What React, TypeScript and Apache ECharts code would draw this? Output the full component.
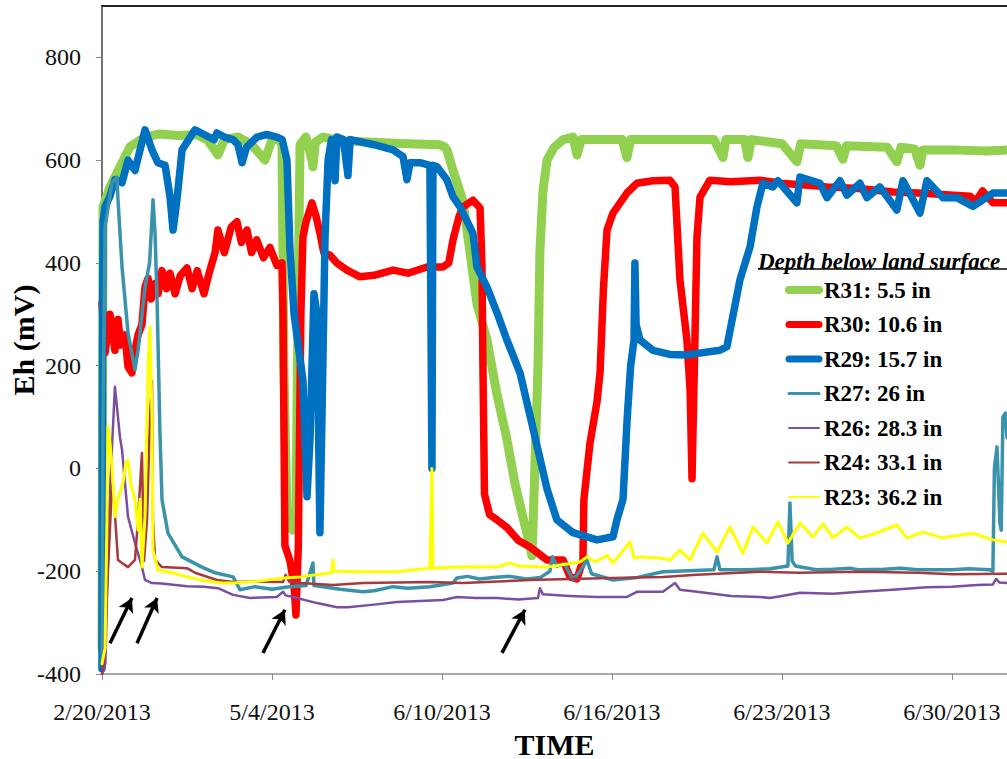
import React, { useEffect, useRef } from "react";
import * as echarts from "echarts";

// x positions are in sample-index units: every 100 samples one date label
const tickLabels = ["2/20/2013", "5/4/2013", "6/10/2013", "6/16/2013", "6/23/2013", "6/30/2013"];
const seriesNames = ["R31: 5.5 in", "R30: 10.6 in", "R29: 15.7 in", "R27: 26 in", "R26: 28.3 in", "R24: 33.1 in", "R23: 36.2 in"];

const r31: number[][] = [
  [0, -350], [0.6, 509], [4.7, 548], [10.6, 587], [16.5, 626], [25.3, 645], [34.1, 651], [45, 648], [55, 650],
  [62, 640], [68.2, 610], [72, 640], [80, 645], [88, 630], [95.9, 600], [100, 640], [104, 640], [105.9, 630],
  [107, 200], [108.8, -80], [112, -120], [114.1, -100], [115.3, 300], [116.5, 630], [120, 645], [123.5, 600],
  [124.1, 587], [125.5, 635], [130, 645], [140, 638], [160, 635], [180, 632], [198.8, 630], [201.8, 625],
  [202.9, 620], [206.5, 580], [212.4, 520], [216.5, 420], [220.6, 320], [226.5, 250], [232, 150], [238, 60],
  [243, -30], [248, -100], [251.8, -150], [252.9, -170], [253.5, -120], [256.5, 200], [257.6, 420], [259.4, 540],
  [261.8, 600], [266, 625], [271.2, 640], [277.1, 645], [279.4, 610], [282, 640], [300, 640], [306, 640],
  [308.8, 605], [311, 640], [330, 640], [350, 640], [360, 640], [365.3, 605], [367, 640], [378, 640], [380, 605],
  [382, 640], [400, 632], [408.8, 597], [411, 632], [432, 628], [435.9, 602], [438, 628], [462, 625],
  [467.6, 597], [470, 625], [478, 622], [481.2, 590], [483, 620], [500, 620], [520, 618], [532.4, 620],
];

const r30: number[][] = [
  [0, 322], [1.8, 225], [4.7, 300], [7.6, 230], [9.4, 290], [11, 240], [13.5, 260], [15.3, 198], [17.6, 186],
  [19.4, 230], [21.2, 260], [23.5, 280], [25.3, 353], [27.1, 370], [29, 330], [31.2, 360], [33, 340], [35.3, 385],
  [38, 350], [40, 380], [43, 340], [46, 375], [50, 390], [53, 350], [56, 385], [60, 340], [63, 380], [66.5, 420],
  [68.2, 464], [72, 420], [76, 470], [79.4, 480], [82, 440], [85.3, 464], [88, 420], [91, 445], [95, 410],
  [98.8, 430], [102.9, 395], [105.9, 400], [106.5, 300], [107.6, -150], [110.6, -180], [113, -230], [114.1, -285],
  [115.5, -150], [117, 300], [118.2, 450], [120, 480], [123.5, 517], [126, 490], [128.2, 458], [130.5, 420],
  [134.1, 415], [138.2, 400], [144.1, 386], [151.8, 373], [160, 376], [171.2, 386], [180, 380], [191.2, 392],
  [200.6, 392], [204, 400], [206.5, 445], [210, 490], [212.4, 509], [218.2, 522], [222.4, 507], [223.5, 400],
  [224.1, 200], [225, -50], [228, -90], [232.4, -100], [238.2, -115], [245, -140], [251.8, -153], [261.8, -178],
  [271.2, -178], [275.3, -211], [279.4, -215], [282.9, -180], [283.5, -60], [287.1, 50], [291.2, 130], [293, 186],
  [295, 350], [297.1, 464], [300.6, 497], [308.8, 536], [314.7, 555], [324, 560], [334.1, 561], [337.1, 548],
  [340, 367], [344.1, 250], [346, 150], [347.1, -20], [348.5, 200], [350, 450], [351.8, 528], [357.6, 561],
  [370, 558], [387.1, 561], [400, 555], [426.5, 548], [445, 545], [465.3, 538], [480, 536], [510.6, 530],
  [514, 520], [518, 540], [524.1, 517], [532.4, 517],
];

const r29: number[][] = [
  [0, -390], [0.3, 200], [0.6, 480], [1.8, 509], [4.7, 530], [7.6, 562], [11.8, 556], [15.3, 600], [19.4, 580],
  [25.3, 659], [29.4, 620], [32.9, 595], [37.1, 590], [40, 529], [41.8, 464], [44.1, 523], [47.1, 620],
  [54.7, 659], [60, 650], [66, 640], [67.6, 653], [72, 645], [77.1, 640], [80, 630], [82.4, 595], [85, 625],
  [91.2, 645], [97, 650], [102.9, 645], [106, 640], [108.8, 600], [110.6, 425], [113, 300], [118.2, 172],
  [120, 0], [120.6, -55], [122.4, 60], [124.7, 340], [126.5, 300], [128.2, -125], [129.4, 100], [131.2, 450],
  [133, 600], [135, 640], [137.1, 560], [138.2, 645], [142, 640], [144.7, 570], [146, 640], [160, 630],
  [171.2, 620], [177.1, 607], [179.4, 562], [181.2, 595], [187.1, 595], [192.9, 590], [193.5, 300], [194.1, 0],
  [194.7, 590], [197.1, 587], [202.9, 562], [206.5, 529], [210.6, 509], [218.2, 458], [220.6, 392], [226.5, 353],
  [232.4, 303], [238.2, 250], [245.9, 186], [252, 100], [257.6, 20], [261.8, -40], [267.6, -100], [277.1, -125],
  [291.2, -139], [300.6, -133], [302.9, -100], [306.5, -60], [309, 100], [311, 200], [313, 250], [313.5, 400],
  [314.2, 280], [316.5, 250], [324.1, 230], [334.1, 222], [344.1, 221], [363.5, 230], [367.6, 237], [375.3, 367],
  [381.2, 431], [385.3, 509], [388.8, 555], [394.7, 548], [397.6, 560], [408.8, 517], [410.6, 567], [422.4, 555],
  [426.5, 527], [434.1, 560], [438.2, 532], [445.9, 555], [450, 527], [457.6, 548], [467.6, 503], [471.2, 560],
  [481.2, 497], [485.3, 560], [494.7, 527], [502.9, 527], [512.4, 510], [524.1, 536], [532.4, 536],
];

const r27: number[][] = [
  [0, -380], [0.6, 100], [1.8, 470], [5.9, 556], [8.8, 567], [9.4, 523], [11.8, 392], [15.3, 264], [19.4, 192],
  [21.2, 230], [25.3, 353], [28, 400], [30, 523], [31.2, 458], [32.4, 328], [34.1, 69], [35.3, -61], [38.8, -126],
  [47.1, -172], [58.8, -192], [66.5, -203], [77.1, -211], [81.2, -236], [90, -230], [100, -235], [110, -230],
  [120, -228], [124.1, -184], [124.7, -228], [130, -230], [140, -235], [153.5, -240], [160, -238], [171.2, -230],
  [180, -233], [192.9, -230], [206.5, -223], [208.8, -213], [215, -210], [222, -215], [230, -212], [240, -210],
  [250, -215], [258, -212], [263.5, -200], [265, -172], [267.6, -190], [272, -185], [277.1, -217], [281.2, -200],
  [285.3, -178], [288, -205], [300.6, -217], [315, -212], [330, -201], [345, -199], [360, -197], [361.8, -172],
  [363.5, -197], [380, -197], [393, -195], [403.5, -190], [404.7, -67], [406, -180], [408, -190], [420, -197],
  [430, -196], [440, -194], [445, -197], [460, -196], [470, -194], [480, -197], [500, -197], [510, -195],
  [522, -197], [524.1, -200], [525, 0], [526.5, 42], [527.6, -50], [528.2, -106], [529, -120], [530, 100],
  [531.5, 108], [532.4, 60],
];

const r26: number[][] = [
  [0, -400], [2, -380], [4, -100], [6, 50], [7.6, 159], [8.8, 120], [9.4, 100], [10.6, 60], [11.8, 36],
  [13.5, -28], [15.3, -94], [19.4, -145], [23.5, -192], [25.3, -217], [29.4, -223], [35, -224], [50, -229],
  [60, -230], [68.2, -233], [77.1, -246], [87.1, -252], [102.9, -250], [106.5, -240], [108, -247], [112.4, -250],
  [126.5, -262], [138.2, -270], [144.7, -270], [160, -265], [173.5, -260], [200.6, -256], [208.8, -250],
  [220, -252], [232.4, -252], [245, -255], [256.5, -252], [257.6, -233], [259.4, -245], [275, -248],
  [291.2, -250], [308.8, -250], [314.7, -240], [330, -240], [337.1, -223], [340, -236], [350, -240], [370, -248],
  [387.1, -250], [392.9, -252], [400, -248], [410.6, -242], [430, -244], [445.9, -240], [465, -236],
  [485.3, -231], [500, -230], [514.7, -227], [524, -226], [526, -215], [528, -222], [532.4, -223],
];

const r24: number[][] = [
  [0, -400], [1, -380], [5.9, -30], [7, -60], [9.4, -178], [11.8, -184], [15.3, -192], [19.4, -178],
  [21.2, -100], [23.5, 30], [24.7, -180], [26.5, -100], [28.2, 100], [29.4, 170], [30, -100], [31.2, -178],
  [35.3, -192], [50, -194], [54.7, -203], [67.6, -217], [77.1, -221], [90, -220], [106.5, -221], [108, -207],
  [110, -220], [116.5, -223], [135.9, -227], [153.5, -223], [192.9, -221], [212.4, -223], [251.8, -217],
  [300, -213], [330, -211], [350, -207], [387.1, -201], [410, -203], [445.9, -201], [480, -203], [500, -206],
  [532.4, -205],
];

const r23: number[][] = [
  [0, -380], [1.8, -350], [2.9, -100], [3.5, 81], [4.7, 50], [5.9, 3], [7.6, -94], [9.4, -60], [12.4, -28],
  [14, 10], [15.3, 16], [17, -30], [19.4, -61], [21.2, -120], [22.4, -60], [23.5, -192], [25.3, -94], [27.1, 198],
  [28.2, 275], [29.4, 100], [30, -159], [32.9, -198], [41.2, -203], [50, -211], [60, -218], [70, -223],
  [77.1, -223], [90, -220], [106.5, -213], [116.5, -211], [135, -203], [135.9, -178], [136.5, -200],
  [153.5, -201], [173.5, -201], [192.9, -194], [194.1, 0], [194.7, -194], [208.8, -192], [232.4, -192],
  [240, -184], [245, -190], [261.8, -192], [281.2, -182], [285.3, -172], [290, -182], [297.1, -169],
  [300.6, -184], [310.6, -143], [313, -175], [316.5, -172], [330, -175], [334.1, -178], [340, -159],
  [345.9, -178], [353.5, -126], [361.8, -163], [369.4, -114], [377.1, -165], [382.9, -114], [391.2, -145],
  [397.6, -104], [403.5, -145], [410.6, -106], [418.2, -133], [424.1, -108], [430, -135], [438.2, -114],
  [445.9, -135], [453.5, -128], [467.6, -110], [473.5, -135], [482.9, -124], [494.7, -135], [512.4, -126],
  [524.1, -139], [532.4, -143],
];

// arrows marking events, given as [from, to] in data coordinates
const arrowSpans: number[][][] = [
  [[4.7, -340], [17.6, -252]],
  [[20.6, -340], [32.4, -252]],
  [[94.7, -359], [107.6, -275]],
  [[235.3, -359], [248.8, -275]],
];

const seriesData = [r31, r30, r29, r27, r26, r24, r23];
const seriesColors = ["#92D050", "#FF0000", "#0070C0", "#3A93AB", "#7B4FA0", "#A5393B", "#FFFF00"];
const seriesWidths = [9, 7.5, 7.5, 3.5, 2.5, 2.5, 3];
const legendWidths = [8, 7, 7, 3, 2, 2, 2];

const X_MAX = 532.4;
const SERIF = "Liberation Serif";

export default function App() {
  const ref = useRef<HTMLDivElement>(null);

  useEffect(() => {
    if (!ref.current) return;
    document.body.style.margin = "0";
    const chart = echarts.init(ref.current, undefined, { renderer: "svg" });

    const series: any[] = seriesNames.map((name, i) => ({
      name,
      type: "line",
      data: seriesData[i],
      showSymbol: false,
      symbol: "none",
      smooth: false,
      lineStyle: { color: seriesColors[i], width: seriesWidths[i], cap: "round", join: "round" },
      itemStyle: { color: seriesColors[i] },
      z: 2 + i,
    }));

    series[series.length - 1].markLine = {
      silent: true,
      symbol: ["none", "arrow"],
      symbolSize: [12, 14],
      label: { show: false },
      lineStyle: { color: "#000", width: 3.5, type: "solid" },
      data: arrowSpans.map(([a, b]) => [{ coord: a }, { coord: b }]),
    };

    chart.setOption({
      animation: false,
      backgroundColor: "#ffffff",
      grid: { left: 102, right: 0, top: 6, bottom: 85, containLabel: false, outerBoundsMode: "none" },
      xAxis: [
        {
          type: "value",
          min: 0,
          max: X_MAX,
          interval: 100,
          position: "bottom",
          name: "TIME",
          nameLocation: "middle",
          nameGap: 55,
          nameMoveOverlap: false,
          nameTextStyle: { fontFamily: SERIF, fontSize: 30, fontWeight: "bold", color: "#000" },
          axisLine: { show: true, onZero: false, lineStyle: { color: "#8c8c8c", width: 1.5 } },
          axisTick: { show: true, length: 6, lineStyle: { color: "#8c8c8c" } },
          axisLabel: {
            margin: 26,
            fontFamily: SERIF,
            fontSize: 24,
            color: "#111",
            showMaxLabel: false,
            formatter: (v: number) => {
              const k = Math.round(v / 100);
              return Math.abs(v - k * 100) < 0.01 && tickLabels[k] ? tickLabels[k] : "";
            },
          },
          splitLine: { show: false },
        },
        {
          type: "value",
          min: 0,
          max: X_MAX,
          position: "top",
          axisLine: { show: true, onZero: false, lineStyle: { color: "#222", width: 2 } },
          axisTick: { show: false },
          axisLabel: { show: false },
          splitLine: { show: false },
        },
      ],
      yAxis: {
        type: "value",
        min: -400,
        max: 900,
        interval: 200,
        name: "Eh (mV)",
        nameLocation: "middle",
        nameGap: 64,
        nameMoveOverlap: false,
        nameTextStyle: { fontFamily: SERIF, fontSize: 30, fontWeight: "bold", color: "#000" },
        axisLine: { show: true, onZero: false, lineStyle: { color: "#444", width: 1.5 } },
        axisTick: { show: true, length: 6, lineStyle: { color: "#888" } },
        axisLabel: {
          margin: 21,
          fontFamily: SERIF,
          fontSize: 24,
          color: "#111",
          showMaxLabel: false,
          formatter: (v: number) => (v % 200 === 0 ? String(v) : ""),
        },
        splitLine: { show: false },
      },
      legend: {
        data: seriesNames.map((name, i) => ({
          name,
          itemStyle: { opacity: 0 },
          lineStyle: { width: legendWidths[i], cap: "round", color: seriesColors[i] },
        })),
        orient: "vertical",
        left: 785,
        top: 278,
        padding: 0,
        itemWidth: 30,
        itemHeight: 12,
        itemGap: 10.5,
        selectedMode: false,
        itemStyle: { opacity: 0 },
        textStyle: { fontFamily: SERIF, fontSize: 23, fontWeight: "bold", color: "#000", lineHeight: 24 },
      },
      graphic: [
        {
          type: "text",
          left: 758,
          top: 250,
          style: {
            text: "Depth below land surface",
            fontFamily: SERIF,
            fontSize: 23,
            fontWeight: "bold",
            fontStyle: "italic",
            fill: "#000",
          },
          z: 20,
        },
        {
          type: "line",
          shape: { x1: 758, y1: 269, x2: 1007, y2: 269 },
          style: { stroke: "#000", lineWidth: 1.5 },
          z: 20,
        },
      ],
      series,
    });

    return () => chart.dispose();
  }, []);

  return (
    <div
      ref={ref}
      style={{ position: "fixed", left: 0, top: 0, width: 1007, height: 759, background: "#fff" }}
    />
  );
}
